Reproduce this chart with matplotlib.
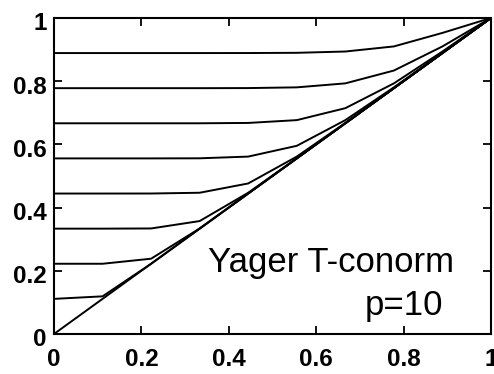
import matplotlib
matplotlib.use("Agg")
import matplotlib.pyplot as plt
import matplotlib.transforms as mtransforms

# Grid of first arguments a = 0, 1/9, ..., 1
a_values = [0.0, 0.1111, 0.2222, 0.3333, 0.4444, 0.5556, 0.6667, 0.7778, 0.8889, 1.0]

# Yager T-conorm S(a, b) for p = 10, one curve per fixed b
curves = {
    "b=0":     [0.0, 0.1111, 0.2222, 0.3333, 0.4444, 0.5556, 0.6667, 0.7778, 0.8889, 1.0],
    "b=1/9":   [0.1111, 0.1191, 0.2222, 0.3333, 0.4444, 0.5556, 0.6667, 0.7778, 0.8889, 1.0],
    "b=2/9":   [0.2222, 0.2222, 0.2382, 0.3339, 0.4445, 0.5556, 0.6667, 0.7778, 0.8889, 1.0],
    "b=3/9":   [0.3333, 0.3333, 0.3339, 0.3573, 0.4469, 0.5559, 0.6667, 0.7778, 0.8889, 1.0],
    "b=4/9":   [0.4444, 0.4444, 0.4445, 0.4469, 0.4763, 0.5613, 0.6678, 0.7781, 0.8890, 1.0],
    "b=5/9":   [0.5556, 0.5556, 0.5556, 0.5559, 0.5613, 0.5954, 0.6767, 0.7804, 0.8897, 1.0],
    "b=6/9":   [0.6667, 0.6667, 0.6667, 0.6667, 0.6678, 0.6767, 0.7145, 0.7930, 0.8938, 1.0],
    "b=7/9":   [0.7778, 0.7778, 0.7778, 0.7778, 0.7781, 0.7804, 0.7930, 0.8336, 0.9099, 1.0],
    "b=8/9":   [0.8889, 0.8889, 0.8889, 0.8889, 0.8890, 0.8897, 0.8938, 0.9099, 0.9527, 1.0],
}

tick_values = [0, 0.2, 0.4, 0.6, 0.8, 1]
tick_labels = ["0", "0.2", "0.4", "0.6", "0.8", "1"]

plt.rcParams["font.family"] = ["Liberation Sans", "DejaVu Sans"]

fig = plt.figure(figsize=(4.94, 3.74), dpi=100)
ax = fig.add_axes([0.1093, 0.107, 0.8846, 0.845])

for name, vals in curves.items():
    ax.plot(a_values, vals, color="black", lw=1.4, solid_joinstyle="round")

ax.set_xlim(0, 1)
ax.set_ylim(0, 1)

for s in ax.spines.values():
    s.set_linewidth(1.5)

# inner tick marks (no marks at the ends)
ax.set_xticks([0.2, 0.4, 0.6, 0.8])
ax.set_yticks([0.2, 0.4, 0.6, 0.8])
ax.set_xticklabels([])
ax.set_yticklabels([])
ax.tick_params(direction="in", length=6, width=1.3, top=True, right=True)

# tick labels drawn as text so they include the end values
xlab_off = mtransforms.ScaledTranslation(0, -14 / 100, fig.dpi_scale_trans)
ylab_off = mtransforms.ScaledTranslation(-7 / 100, -6 / 100, fig.dpi_scale_trans)
for v, lab in zip(tick_values, tick_labels):
    ax.text(v, 0, lab, transform=ax.get_xaxis_transform() + xlab_off,
            ha="center", va="top", fontsize=17.5, fontweight="bold")
    ax.text(0, v, lab, transform=ax.get_yaxis_transform() + ylab_off,
            ha="right", va="center", fontsize=17.5, fontweight="bold")

ax.text(0.352, 0.196, "Yager T-conorm", transform=ax.transAxes,
        ha="left", va="baseline", fontsize=25)
ax.text(0.712, 0.060, "p=10", transform=ax.transAxes,
        ha="left", va="baseline", fontsize=25)

fig.savefig("out.png", dpi=100)
